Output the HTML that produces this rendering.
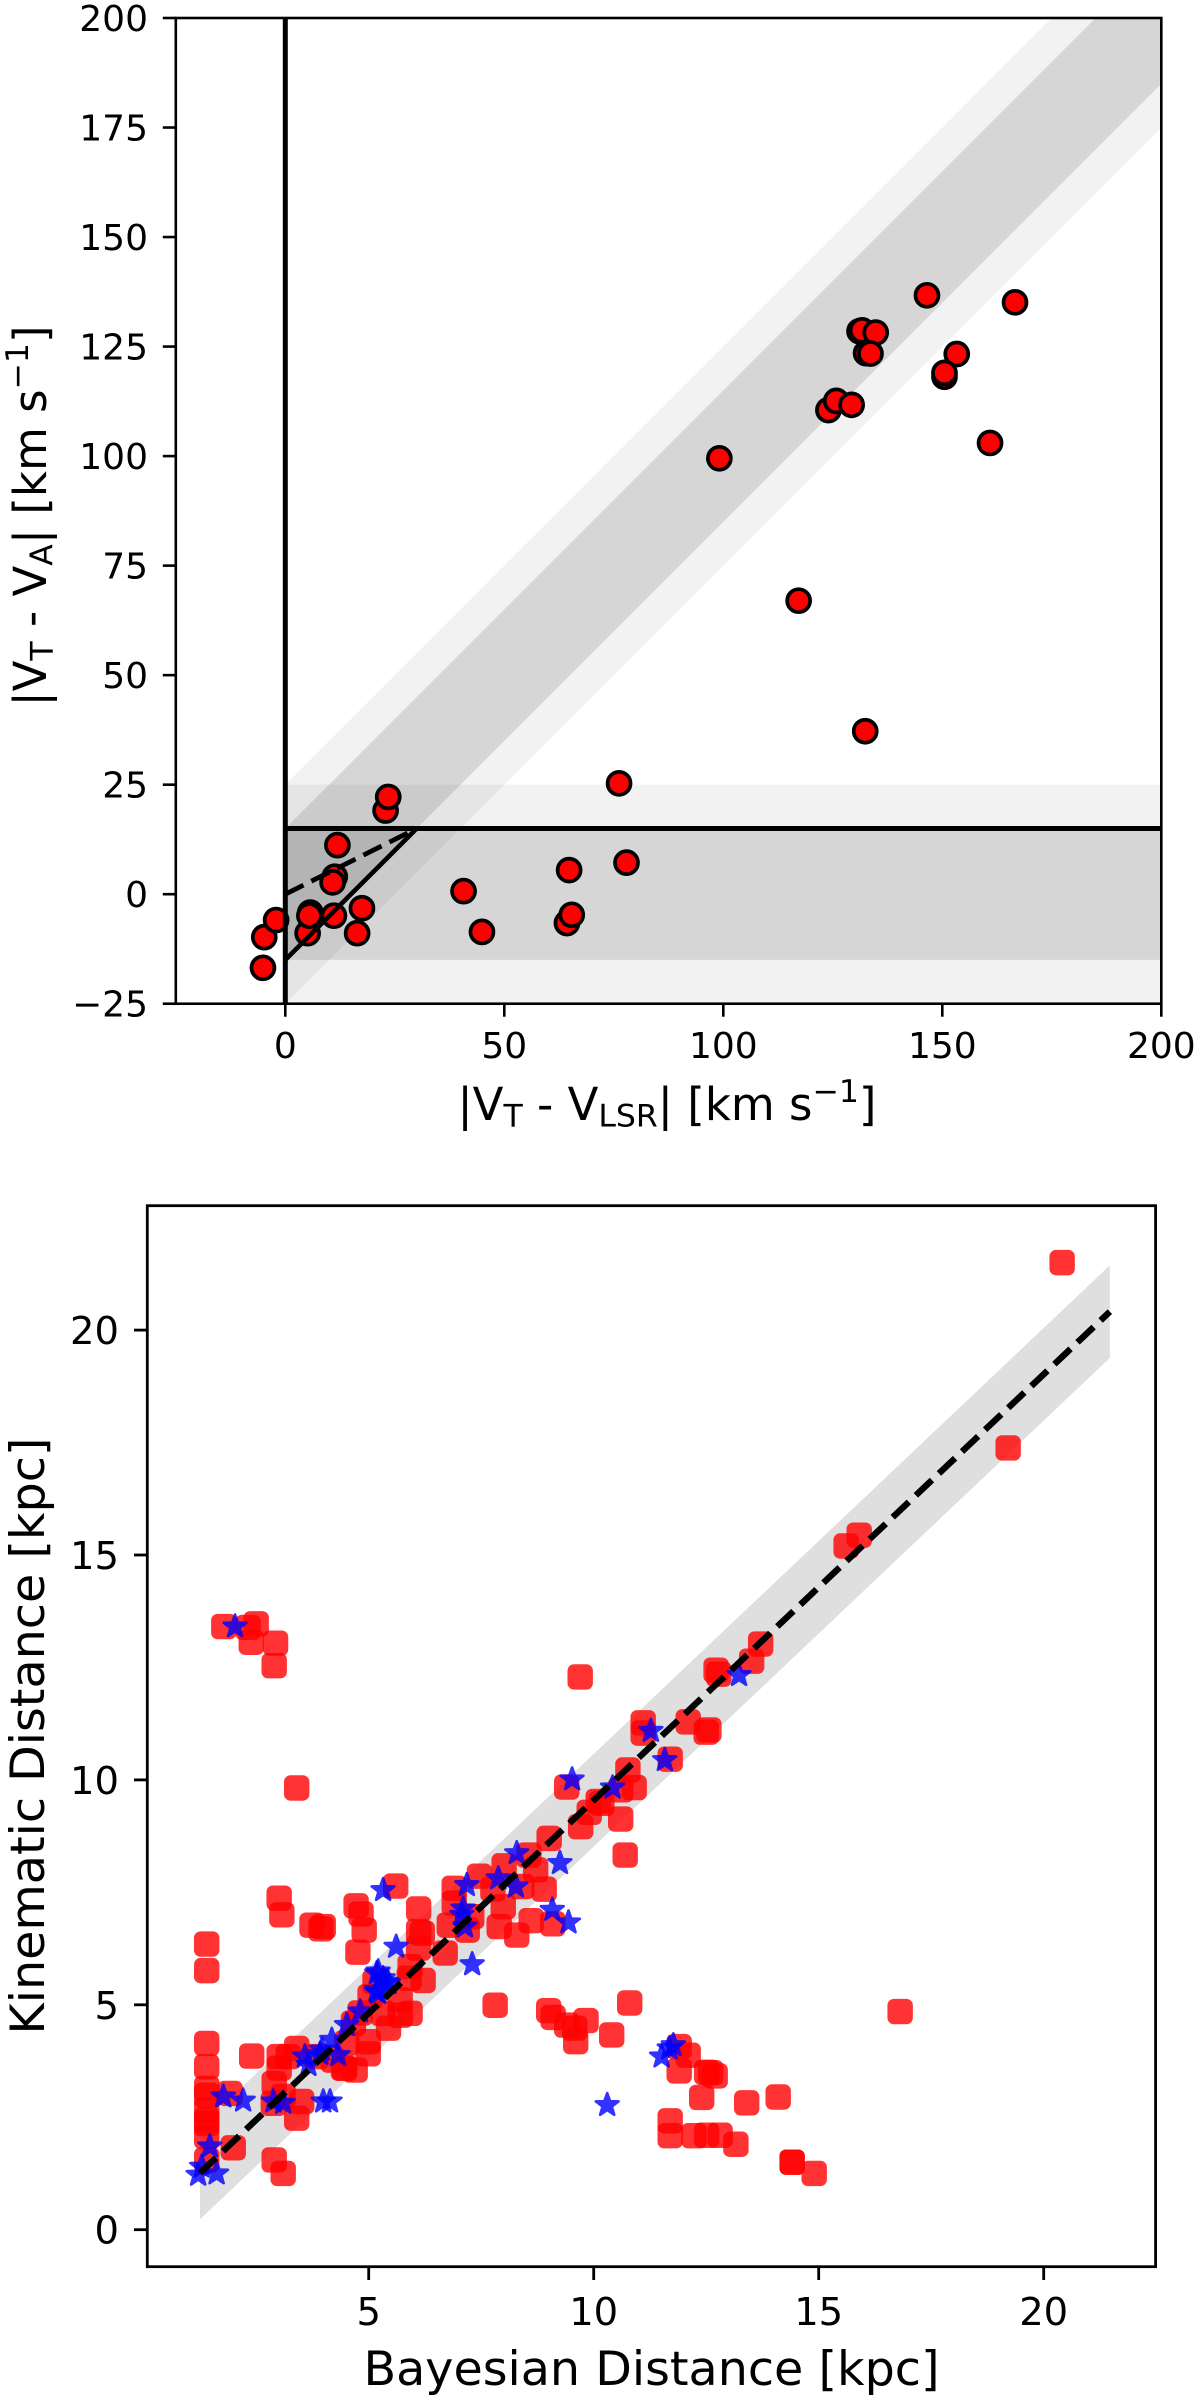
<!DOCTYPE html>
<html lang="en">
<head>
<meta charset="utf-8">
<title>Velocity and distance comparison charts</title>
<style>
html,body{margin:0;padding:0;background:#fff;}
svg{display:block;}
text{font-family:"DejaVu Sans","Liberation Sans",sans-serif;fill:#000;}
</style>
</head>
<body>
<svg id="figure" xmlns="http://www.w3.org/2000/svg" width="1200" height="2401" viewBox="0 0 1200 2401">
  <defs>
    <clipPath id="clip-top"><rect x="175.8" y="18" width="985.5" height="985.7"/></clipPath>
  </defs>
  <g id="top-bands" clip-path="url(#clip-top)"></g>
  <g id="top-points"></g>
  <g id="top-lines" clip-path="url(#clip-top)"></g>
  <g id="top-axes"></g>
  <text x="667" y="1120" font-size="45" text-anchor="middle">|V<tspan font-size="31.5" dy="6.5">T</tspan><tspan dy="-6.5"> - V</tspan><tspan font-size="31.5" dy="6.5">LSR</tspan><tspan dy="-6.5">| [km s</tspan><tspan font-size="31.5" dy="-18">−1</tspan><tspan dy="18">]</tspan></text>
  <text transform="translate(46,516) rotate(-90)" font-size="45" text-anchor="middle">|V<tspan font-size="31.5" dy="6.5">T</tspan><tspan dy="-6.5"> - V</tspan><tspan font-size="31.5" dy="6.5">A</tspan><tspan dy="-6.5">| [km s</tspan><tspan font-size="31.5" dy="-18">−1</tspan><tspan dy="18">]</tspan></text>

  <g id="bottom-band"></g>
  <g id="bottom-red"></g>
  <g id="bottom-blue"></g>
  <g id="bottom-line"></g>
  <g id="bottom-axes"></g>
  <text x="651.5" y="2385" font-size="47.6" text-anchor="middle">Bayesian Distance [kpc]</text>
  <text transform="translate(44,1736) rotate(-90)" font-size="47.6" text-anchor="middle">Kinematic Distance [kpc]</text>
</svg>
<script>
// Top chart data
const velXTicks = [0, 50, 100, 150, 200];
const velYTicks = [-25, 0, 25, 50, 75, 100, 125, 150, 175, 200];
const velPointsX = [146.5,166.6,131.1,131.7,134.8,132.6,133.6,153.3,150.5,150.5,
  124,125.8,129.3,99.1,160.9,117.2,132.4,76.2,22.9,23.5,
  11.9,11.3,10.8,64.8,77.9,40.7,-5.1,-4.8,-2.1,5.1,
  5.7,5.5,11.1,17.5,16.4,44.9,64.3,65.4];
const velPointsY = [136.7,135.1,128.5,128.7,128.2,123.5,123.4,123.3,118.1,119,
  110.5,112.6,111.7,99.5,103,67,37.2,25.3,19.1,22.2,
  11.2,4.0,2.7,5.5,7.2,0.7,-16.8,-9.8,-5.9,-8.9,
  -4.2,-4.9,-4.9,-3.2,-8.9,-8.6,-6.6,-4.7];
const velBandWidths = [25, 15];
const velBandAlphas = [0.05, 0.115];
const velDomainEnd = [200];
const velCutX = [0];
const velCutY = [15];
const velTriangleApexX = [30];
const velSolidStartY = [-15];
const velDashedStartY = [0];

// Bottom chart data
const distXTicks = [5, 10, 15, 20];
const distYTicks = [0, 5, 10, 15, 20];
const redX = [20.41,19.21,15.9,15.61,13.71,13.51,12.72,12.78,12.1,12.56,
  12.5,11.1,11.1,11.7,10.76,10.9,10.6,10.18,10.6,10.7,
  16.81,10.8,10.4,11.9,12.1,11.9,12.51,12.6,12.7,12.4,
  13.4,14.1,11.7,11.7,12.23,12.51,12.81,13.16,14.41,14.41,
  14.9,3.4,9.7,1.4,1.4,3.01,3.07,3.74,3.94,3.99,
  4.72,4.83,4.9,4.76,5.6,6.11,6.11,6.19,6.11,5.92,
  6.7,6.21,5.9,6.9,6.9,6.79,7.19,7.29,7.46,7.76,
  8.01,7.99,7.9,8.29,8.61,9.09,8.9,8.71,8.56,8.4,
  9.01,9.4,9.71,9.9,10.1,7.81,9.0,9.1,9.4,9.58,
  9.6,9.83,5.14,5.92,5.7,5.44,4.99,4.99,4.7,4.47,
  5.03,5.32,5.7,4.81,4.66,1.4,1.4,1.4,1.4,1.92,
  1.4,1.4,1.4,1.4,2.4,3.01,3.21,3.4,3.01,2.9,
  2.88,3.1,3.51,3.4,1.99,2.9,3.1,1.4,3.84,4.44,
  4.21,4.51,1.78,2.5,2.32,2.39,2.93,2.9];
const redY = [21.5,17.38,15.44,15.2,13.02,12.64,12.44,12.35,11.29,11.11,
  11.06,11.27,11.04,10.46,10.22,9.83,9.78,9.48,9.13,8.33,
  4.85,5.04,4.33,4.07,3.88,3.53,3.5,3.49,3.42,2.94,
  2.82,2.95,2.42,2.09,2.09,2.1,2.1,1.9,1.5,1.5,
  1.25,9.82,12.29,6.35,5.76,7.37,7.0,6.77,6.69,6.74,
  7.2,7.02,6.66,6.17,7.64,7.13,6.63,6.59,6.26,5.85,
  6.15,5.54,5.59,7.59,7.26,6.77,6.66,6.96,7.86,7.57,
  8.09,7.18,6.74,6.55,6.87,6.8,7.57,8.0,8.33,7.63,
  8.7,9.84,8.96,9.28,9.52,4.99,4.87,4.72,4.55,4.48,
  4.18,4.65,5.51,4.81,5.11,4.48,4.18,3.91,3.55,3.59,
  5.18,4.81,4.77,4.82,4.59,4.14,3.62,3.14,2.99,3.03,
  2.66,2.44,2.36,2.07,3.86,3.85,3.85,4.03,3.59,3.25,
  2.81,2.96,2.85,2.48,1.82,1.55,1.25,1.55,3.85,3.59,
  3.77,4.15,13.41,13.47,13.39,13.06,13.04,12.54];
const blueX = [13.23,11.27,11.58,10.42,9.52,8.29,9.25,7.88,8.27,7.18,
  7.1,7.07,7.14,9.08,9.44,5.32,5.61,7.3,5.21,5.18,
  5.32,5.44,5.4,5.18,5.18,4.81,4.51,4.18,4.32,3.96,
  3.58,3.66,3.92,11.77,11.68,11.51,10.3,1.77,2.21,2.88,
  3.1,3.99,4.14,1.47,1.29,1.21,1.62,2.03,5.21];
const blueY = [12.33,11.09,10.44,9.83,10.01,8.37,8.15,7.81,7.63,7.66,
  7.14,7.0,6.74,7.11,6.83,7.55,6.29,5.9,5.74,5.7,
  5.59,5.48,5.51,5.33,5.29,4.85,4.55,4.22,3.88,4.0,
  3.85,3.66,3.91,4.1,4.03,3.85,2.77,2.96,2.87,2.85,
  2.82,2.85,2.85,1.85,1.4,1.22,1.25,13.41,5.26];
const fitLineX = [1.25, 21.47];
const fitLineY = [1.26, 20.41];
const fitBandHalfWidth = [1.03];

// Axis functions
function velX(v){ return 285.3 + v * 4.38; }
function velY(v){ return 18 + (200 - v) * 4.381; }
function distX(v){ return 143.7 + v * 45; }
function distY(v){ return 2229.7 - v * 44.98; }

const NS = 'http://www.w3.org/2000/svg';
function mk(parentId, tag, attrs){
  const el = document.createElementNS(NS, tag);
  for (const k in attrs) el.setAttribute(k, attrs[k]);
  document.getElementById(parentId).appendChild(el);
  return el;
}
function poly(pts){ return pts.map(p => p[0].toFixed(2) + ',' + p[1].toFixed(2)).join(' '); }

// Top chart: bands
velBandWidths.forEach((w, i) => {
  const end = velDomainEnd[0];
  const diag = mk('top-bands', 'polygon', {
    points: poly([[velX(0), velY(-w)], [velX(end), velY(end - w)], [velX(end), velY(end + w)], [velX(0), velY(w)]]),
    fill: '#000', 'fill-opacity': velBandAlphas[i]
  });
  
  
  const horiz = mk('top-bands', 'polygon', {
    points: poly([[velX(0), velY(-w)], [velX(end), velY(-w)], [velX(end), velY(w)], [velX(0), velY(w)]]),
    fill: '#000', 'fill-opacity': velBandAlphas[i]
  });
  
  
});

// Top chart: points
velPointsX.forEach((v, i) => {
  const c = mk('top-points', 'circle', {
    cx: velX(v).toFixed(2), cy: velY(velPointsY[i]).toFixed(2), r: 11.5,
    fill: '#ff0000', stroke: '#000', 'stroke-width': 3.7
  });
  
  
});

// Top chart: lines
const vertLine = mk('top-lines', 'line', {
  x1: velX(velCutX[0]), x2: velX(velCutX[0]), y1: velY(200), y2: velY(-25), stroke: '#000', 'stroke-width': 5
});


const horizLine = mk('top-lines', 'line', {
  x1: velX(velCutX[0]), x2: velX(velDomainEnd[0]), y1: velY(velCutY[0]), y2: velY(velCutY[0]), stroke: '#000', 'stroke-width': 5
});


const solidLine = mk('top-lines', 'line', {
  x1: velX(0), y1: velY(velSolidStartY[0]), x2: velX(velTriangleApexX[0]), y2: velY(velCutY[0]), stroke: '#000', 'stroke-width': 4.6
});


const dashLine = mk('top-lines', 'line', {
  x1: velX(0), y1: velY(velDashedStartY[0]), x2: velX(velTriangleApexX[0]), y2: velY(velCutY[0]), stroke: '#000', 'stroke-width': 4.8, 'stroke-dasharray': '20.3 8.8'
});



// Top chart: frame and ticks
const velFrame = mk('top-axes', 'rect', {
  x: velX(-25), y: velY(200), width: velX(200) - velX(-25), height: velY(-25) - velY(200), fill: 'none', stroke: '#000', 'stroke-width': 2.6
});


velXTicks.forEach(v => {
  const t = mk('top-axes', 'line', { x1: velX(v), x2: velX(v), y1: velY(-25), y2: velY(-25) + 13, stroke: '#000', 'stroke-width': 2.6 });
  
  
  const l = mk('top-axes', 'text', { x: velX(v), y: 1058, 'font-size': 36, 'text-anchor': 'middle' });
  
  
  l.textContent = v;
});
velYTicks.forEach(v => {
  const t = mk('top-axes', 'line', { x1: velX(-25) - 13, x2: velX(-25), y1: velY(v), y2: velY(v), stroke: '#000', 'stroke-width': 2.6 });
  
  
  const l = mk('top-axes', 'text', { x: 148, y: velY(v) + 13, 'font-size': 36, 'text-anchor': 'end' });
  
  
  l.textContent = v < 0 ? '−' + Math.abs(v) : v;
});

// Bottom chart: band
const fitBand = mk('bottom-band', 'polygon', {
  points: poly([
    [distX(fitLineX[0]), distY(fitLineY[0] - fitBandHalfWidth[0])],
    [distX(fitLineX[1]), distY(fitLineY[1] - fitBandHalfWidth[0])],
    [distX(fitLineX[1]), distY(fitLineY[1] + fitBandHalfWidth[0])],
    [distX(fitLineX[0]), distY(fitLineY[0] + fitBandHalfWidth[0])]
  ]),
  fill: '#000', 'fill-opacity': 0.125
});



// Bottom chart: red squares
redX.forEach((v, i) => {
  const r = mk('bottom-red', 'rect', {
    x: (distX(v) - 12.7).toFixed(2), y: (distY(redY[i]) - 12.7).toFixed(2), width: 25.4, height: 25.4, rx: 6.5, ry: 6.5,
    fill: '#ff0000', 'fill-opacity': 0.8
  });
  
  
});

// Bottom chart: blue stars
function starPoints(cx, cy){
  const pts = [];
  for (let k = 0; k < 10; k++){
    const rad = k % 2 === 0 ? 12 : 4.9;
    const a = -Math.PI / 2 + k * Math.PI / 5;
    pts.push([cx + rad * Math.cos(a), cy + rad * Math.sin(a)]);
  }
  return poly(pts);
}
blueX.forEach((v, i) => {
  const s = mk('bottom-blue', 'polygon', {
    points: starPoints(distX(v), distY(blueY[i])),
    fill: '#0000ff', stroke: '#0000ff', 'stroke-width': 2.6, 'stroke-linejoin': 'round', opacity: 0.8
  });
  
  
});

// Bottom chart: fit line
const fitLine = mk('bottom-line', 'line', {
  x1: distX(fitLineX[0]), y1: distY(fitLineY[0]), x2: distX(fitLineX[1]), y2: distY(fitLineY[1]),
  stroke: '#000', 'stroke-width': 6.4, 'stroke-dasharray': '22.2 9.6'
});



// Bottom chart: frame and ticks
const distFrame = mk('bottom-axes', 'rect', {
  x: 147.3, y: 1205.7, width: 1008.3, height: 1061, fill: 'none', stroke: '#000', 'stroke-width': 2.8
});


distXTicks.forEach(v => {
  const t = mk('bottom-axes', 'line', { x1: distX(v), x2: distX(v), y1: 2266.7, y2: 2280, stroke: '#000', 'stroke-width': 2.8 });
  
  
  const l = mk('bottom-axes', 'text', { x: distX(v), y: 2325, 'font-size': 38.5, 'text-anchor': 'middle' });
  
  
  l.textContent = v;
});
distYTicks.forEach(v => {
  const t = mk('bottom-axes', 'line', { x1: 134, x2: 147.3, y1: distY(v), y2: distY(v), stroke: '#000', 'stroke-width': 2.8 });
  
  
  const l = mk('bottom-axes', 'text', { x: 119, y: distY(v) + 14, 'font-size': 38.5, 'text-anchor': 'end' });
  
  
  l.textContent = v;
});
</script>
</body>
</html>
